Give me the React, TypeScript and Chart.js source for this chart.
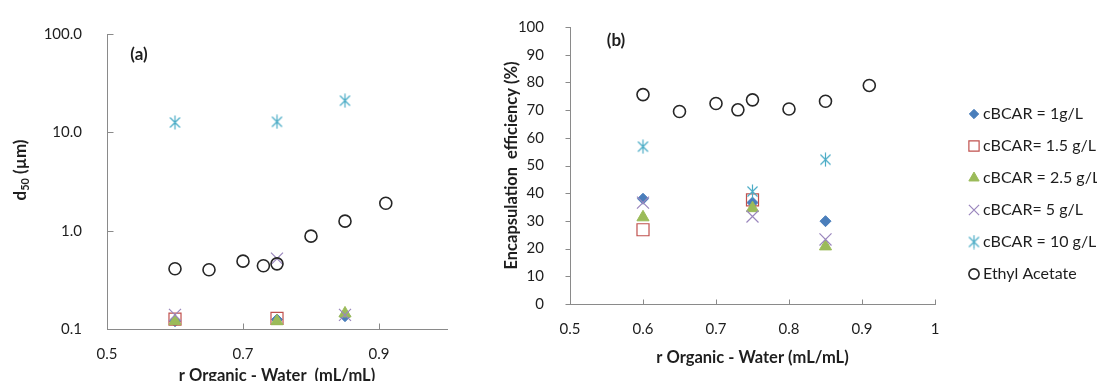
import React, { useEffect, useRef } from 'react';
import { Chart, registerables } from 'chart.js';
import { drawPoint } from 'chart.js/helpers';

Chart.register(...registerables);

// ---- data -----------------------------------------------------------------
// Organic/water volume ratios
const ratioEthylAcetate = [0.6, 0.65, 0.7, 0.73, 0.75, 0.8, 0.85, 0.91];
const ratioBcar = [0.6, 0.75, 0.85];
const ratioBcar15 = [0.6, 0.75];

// (a) particle size d50 (µm)
const d50EthylAcetate = [0.41, 0.4, 0.49, 0.44, 0.46, 0.88, 1.25, 1.9];
const d50Bcar1 = [0.12, 0.125, 0.135];
const d50Bcar15 = [0.126, 0.128];
const d50Bcar25 = [0.12, 0.12, 0.144];
const d50Bcar5 = [0.139, 0.52, 0.139];
const d50Bcar10 = [12.6, 12.8, 21.0];

// (b) encapsulation efficiency (%)
const effEthylAcetate = [75.6, 69.5, 72.4, 70.1, 73.7, 70.4, 73.2, 78.9];
const effBcar1 = [38.0, 36.6, 29.9];
const effBcar15 = [26.8, 37.6];
const effBcar25 = [31.3, 34.6, 20.8];
const effBcar5 = [36.6, 31.6, 23.3];
const effBcar10 = [56.8, 40.6, 52.1];

const seriesLabels = [
  'cBCAR = 1g/L',
  'cBCAR= 1.5 g/L',
  'cBCAR = 2.5 g/L',
  'cBCAR= 5 g/L',
  'cBCAR = 10 g/L',
  'Ethyl Acetate',
];

const sizeTicks = [0.1, 1, 10, 100];
const ratioTicksA = [0.5, 0.7, 0.9];

// ---- styling --------------------------------------------------------------
const AXIS_COLOR = '#8a8a8a';
const TEXT_COLOR = '#1e1e1e';
const FONT = 'Lato, "Open Sans", sans-serif';

Chart.defaults.font.family = FONT;
Chart.defaults.color = TEXT_COLOR;

function makeAsterisk(color: string, size: number, lw: number) {
  const c = document.createElement('canvas');
  c.width = size;
  c.height = size;
  const g = c.getContext('2d')!;
  g.strokeStyle = color;
  g.lineWidth = lw;
  const m = size / 2;
  const r = size / 2 - 0.5;
  const d = r * 0.72;
  g.beginPath();
  g.moveTo(m, m - r);
  g.lineTo(m, m + r);
  g.moveTo(m - d, m - d);
  g.lineTo(m + d, m + d);
  g.moveTo(m + d, m - d);
  g.lineTo(m - d, m + d);
  g.stroke();
  return c;
}

type MarkerStyle = {
  pointStyle: any;
  radius: number;
  fill: string;
  stroke: string;
  borderWidth: number;
};

function markerStyles(): MarkerStyle[] {
  return [
    { pointStyle: 'rectRot', radius: 5.5, fill: '#4a7ebb', stroke: '#4a7ebb', borderWidth: 1 },
    { pointStyle: 'rect', radius: 8.5, fill: 'rgba(0,0,0,0)', stroke: '#c0504d', borderWidth: 1.2 },
    { pointStyle: 'triangle', radius: 7, fill: '#9bbb59', stroke: '#9bbb59', borderWidth: 1 },
    { pointStyle: 'crossRot', radius: 8.5, fill: 'rgba(0,0,0,0)', stroke: '#9a86bd', borderWidth: 1.2 },
    { pointStyle: makeAsterisk('#4bacc6', 15, 1.2), radius: 7, fill: '#4bacc6', stroke: '#4bacc6', borderWidth: 1 },
    { pointStyle: 'circle', radius: 6, fill: 'rgba(0,0,0,0)', stroke: '#262626', borderWidth: 1.6 },
  ];
}

function buildDatasets(xSets: number[][], ySets: number[][]) {
  const styles = markerStyles();
  return ySets.map((ys, i) => {
    const s = styles[i];
    return {
      label: seriesLabels[i],
      data: ys.map((y, k) => ({ x: xSets[i][k], y })),
      pointStyle: s.pointStyle,
      pointRadius: s.radius,
      pointHoverRadius: s.radius,
      backgroundColor: s.fill,
      borderColor: s.stroke,
      pointBorderWidth: s.borderWidth,
      borderWidth: s.borderWidth,
      showLine: false,
      clip: false as const,
      // later series are painted over earlier ones
      order: ySets.length - i,
    };
  });
}

// ---- plugins --------------------------------------------------------------
const axisMarks = {
  id: 'axisMarks',
  beforeDatasetsDraw(chart: any, _a: any, opts: any) {
    const { ctx, chartArea } = chart;
    const xs = chart.scales.x;
    const ys = chart.scales.y;
    ctx.save();
    ctx.strokeStyle = AXIS_COLOR;
    ctx.lineWidth = 1;
    ctx.beginPath();
    const bottom = Math.round(chartArea.bottom) + 0.5;
    const left = Math.round(chartArea.left) + 0.5;
    xs.ticks.forEach((t: any) => {
      const px = Math.round(xs.getPixelForValue(t.value)) + 0.5;
      ctx.moveTo(px, bottom);
      ctx.lineTo(px, bottom - opts.xLen);
    });
    ys.ticks.forEach((t: any) => {
      const py = Math.round(ys.getPixelForValue(t.value)) + 0.5;
      ctx.moveTo(left, py);
      ctx.lineTo(left + opts.yLen, py);
    });
    ctx.stroke();
    ctx.restore();
  },
};

const panelText = {
  id: 'panelText',
  afterDraw(chart: any, _a: any, opts: any) {
    const { ctx } = chart;
    ctx.save();
    ctx.fillStyle = TEXT_COLOR;
    ctx.font = `bold 17px ${FONT}`;
    ctx.textAlign = 'center';
    ctx.textBaseline = 'middle';
    ctx.fillText(opts.text, opts.x, opts.y);
    ctx.restore();
  },
};

// rotated y title with a subscript ("d" + "50" + " (µm)")
const subscriptTitle = {
  id: 'subscriptTitle',
  afterDraw(chart: any, _a: any, opts: any) {
    const { ctx } = chart;
    const main = `bold 17px ${FONT}`;
    const sub = `bold 11px ${FONT}`;
    ctx.save();
    ctx.fillStyle = TEXT_COLOR;
    ctx.translate(opts.x, opts.y);
    ctx.rotate(-Math.PI / 2);
    ctx.textBaseline = 'middle';
    ctx.textAlign = 'left';
    ctx.font = main;
    const w1 = ctx.measureText(opts.base).width;
    const w3 = ctx.measureText(opts.tail).width;
    ctx.font = sub;
    const w2 = ctx.measureText(opts.sub).width;
    let x = -(w1 + w2 + w3) / 2;
    ctx.font = main;
    ctx.fillText(opts.base, x, 0);
    x += w1;
    ctx.font = sub;
    ctx.fillText(opts.sub, x, 4);
    x += w2;
    ctx.font = main;
    ctx.fillText(opts.tail, x, 0);
    ctx.restore();
  },
};

const sideLegend = {
  id: 'sideLegend',
  afterDraw(chart: any, _a: any, opts: any) {
    const { ctx } = chart;
    ctx.save();
    chart.data.datasets.forEach((ds: any, i: number) => {
      const y = opts.top + i * opts.gap;
      ctx.fillStyle = ds.backgroundColor;
      ctx.strokeStyle = ds.borderColor;
      ctx.lineWidth = ds.pointBorderWidth;
      drawPoint(ctx, { pointStyle: ds.pointStyle, rotation: 0, radius: ds.pointRadius * 0.85, borderWidth: ds.pointBorderWidth }, opts.markerX, y);
      ctx.fillStyle = TEXT_COLOR;
      ctx.font = `${opts.fontSize}px ${FONT}`;
      ctx.textAlign = 'left';
      ctx.textBaseline = 'middle';
      ctx.fillText(ds.label, opts.textX, y);
    });
    ctx.restore();
  },
};

const tickFont = { size: 15, family: FONT };
const titleFont = { size: 16.5, weight: 'bold' as const, family: FONT };

function sizeChartConfig(): any {
  return {
    type: 'scatter',
    data: {
      datasets: buildDatasets(
        [ratioBcar, ratioBcar15, ratioBcar, ratioBcar, ratioBcar, ratioEthylAcetate],
        [d50Bcar1, d50Bcar15, d50Bcar25, d50Bcar5, d50Bcar10, d50EthylAcetate],
      ),
    },
    options: {
      responsive: false,
      animation: false,
      events: [],
      layout: { padding: { left: 0, right: 23, top: 34, bottom: 0 } },
      plugins: {
        legend: { display: false },
        tooltip: { enabled: false },
        axisMarks: { xLen: 6, yLen: 6 },
        panelText: { text: '(a)', x: 139, y: 55 },
        subscriptTitle: { x: 21, y: 170, base: 'd', sub: '50', tail: ' (µm)' },
      },
      scales: {
        x: {
          type: 'linear',
          min: 0.5,
          max: 1.0,
          grid: { display: false },
          border: { display: true, color: AXIS_COLOR, width: 1 },
          afterBuildTicks: (s: any) => {
            s.ticks = ratioTicksA.map((v) => ({ value: v }));
          },
          afterFit: (s: any) => {
            s.height = 66;
          },
          ticks: {
            font: tickFont,
            color: TEXT_COLOR,
            padding: 8,
            maxRotation: 0,
            autoSkip: false,
            callback: (v: any) => Number(v).toFixed(1),
          },
          title: {
            display: true,
            text: 'r Organic - Water  (mL/mL)',
            font: titleFont,
            color: TEXT_COLOR,
            padding: { top: 0, bottom: 9 },
          },
        },
        y: {
          type: 'logarithmic',
          min: 0.1,
          max: 100,
          grid: { display: false },
          border: { display: true, color: AXIS_COLOR, width: 1 },
          afterBuildTicks: (s: any) => {
            s.ticks = sizeTicks.map((v) => ({ value: v, major: true }));
          },
          afterFit: (s: any) => {
            s.width = 107;
          },
          ticks: {
            font: tickFont,
            color: TEXT_COLOR,
            padding: 17,
            autoSkip: false,
            callback: (v: any) => Number(v).toFixed(1),
          },
        },
      },
    },
    plugins: [axisMarks, panelText, subscriptTitle],
  };
}

function efficiencyChartConfig(): any {
  return {
    type: 'scatter',
    data: {
      datasets: buildDatasets(
        [ratioBcar, ratioBcar15, ratioBcar, ratioBcar, ratioBcar, ratioEthylAcetate],
        [effBcar1, effBcar15, effBcar25, effBcar5, effBcar10, effEthylAcetate],
      ),
    },
    options: {
      responsive: false,
      animation: false,
      events: [],
      layout: { padding: { left: 0, right: 162, top: 20, bottom: 0 } },
      plugins: {
        legend: { display: false },
        tooltip: { enabled: false },
        axisMarks: { xLen: 5, yLen: -5 },
        panelText: { text: '(b)', x: 146, y: 41 },
        sideLegend: { markerX: 504, textX: 513, top: 114, gap: 32, fontSize: 16 },
      },
      scales: {
        x: {
          type: 'linear',
          min: 0.5,
          max: 1.0,
          grid: { display: false },
          border: { display: true, color: AXIS_COLOR, width: 1 },
          afterFit: (s: any) => {
            s.height = 91;
          },
          ticks: {
            stepSize: 0.1,
            font: tickFont,
            color: TEXT_COLOR,
            padding: 8,
            maxRotation: 0,
            autoSkip: false,
            callback: (v: any) => String(Number(Number(v).toFixed(1))),
          },
          title: {
            display: true,
            text: 'r Organic - Water (mL/mL)',
            font: titleFont,
            color: TEXT_COLOR,
            padding: { top: 0, bottom: 27 },
          },
        },
        y: {
          type: 'linear',
          min: 0,
          max: 100,
          grid: { display: false },
          border: { display: true, color: AXIS_COLOR, width: 1 },
          afterFit: (s: any) => {
            s.width = 100;
          },
          ticks: {
            stepSize: 10,
            font: tickFont,
            color: TEXT_COLOR,
            padding: 18,
            autoSkip: false,
          },
          title: {
            display: true,
            text: 'Encapsulation  efficiency (%)',
            font: titleFont,
            color: TEXT_COLOR,
            padding: { top: 32, bottom: 0 },
          },
        },
      },
    },
    plugins: [axisMarks, panelText, sideLegend],
  };
}

export default function App() {
  const sizeRef = useRef<HTMLCanvasElement>(null);
  const effRef = useRef<HTMLCanvasElement>(null);

  useEffect(() => {
    const a = new Chart(sizeRef.current!, sizeChartConfig());
    const b = new Chart(effRef.current!, efficiencyChartConfig());
    return () => {
      a.destroy();
      b.destroy();
    };
  }, []);

  return (
    <div
      style={{
        position: 'fixed',
        left: 0,
        top: 0,
        width: 1097,
        height: 381,
        overflow: 'hidden',
        background: '#fff',
      }}
    >
      <canvas ref={sizeRef} width={470} height={395} style={{ position: 'absolute', left: 0, top: 0 }} />
      <canvas ref={effRef} width={627} height={395} style={{ position: 'absolute', left: 470, top: 0 }} />
    </div>
  );
}
